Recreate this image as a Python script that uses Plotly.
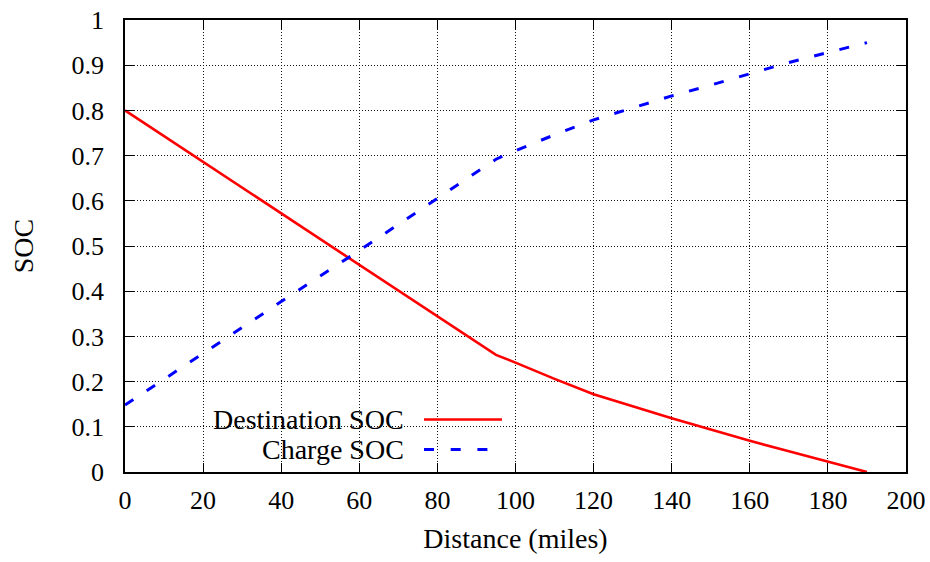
import plotly.graph_objects as go

# Data
dest_distance = [0, 95, 100, 110, 120, 130, 140, 150, 160, 170, 180, 190]
dest_soc = [0.80, 0.259, 0.242, 0.206, 0.172, 0.145, 0.119, 0.094, 0.069, 0.046, 0.023, 0.0]

charge_distance = [0, 20, 40, 60, 80, 95, 100, 110, 120, 130, 140, 150, 160, 170, 180, 190]
charge_soc = [0.148, 0.263, 0.377, 0.490, 0.606, 0.692, 0.711, 0.746, 0.779, 0.806, 0.832, 0.856, 0.881, 0.906, 0.928, 0.950]

x_ticks = [0, 20, 40, 60, 80, 100, 120, 140, 160, 180, 200]
y_ticks = [0, 0.1, 0.2, 0.3, 0.4, 0.5, 0.6, 0.7, 0.8, 0.9, 1]
legend_labels = ["Destination SOC", "Charge SOC"]

FONT = "Liberation Serif"
W, H = 930, 562
PL, PR, PT, PB = 125, 906, 19.5, 472          # plot area in page pixels
L, R, T, B = PL, W - PR, PT, H - PB


def px(xp):
    return (xp - PL) / (PR - PL)


def py(yp):
    return (PB - yp) / (PB - PT)


fig = go.Figure()
fig.add_trace(go.Scatter(x=dest_distance, y=dest_soc, mode="lines", name=legend_labels[0],
                         line=dict(color="#ff0000", width=2.6), showlegend=False))
fig.add_trace(go.Scatter(x=charge_distance, y=charge_soc, mode="lines", name=legend_labels[1],
                         line=dict(color="#0000ff", width=3, dash="10px,16px"), showlegend=False))

axis_common = dict(
    showline=True, linecolor="black", linewidth=1.5, mirror="ticks",
    ticks="inside", ticklen=9, tickwidth=1.2, tickcolor="black",
    showgrid=True, gridcolor="#111111", gridwidth=1, griddash="1px,2px",
    zeroline=False, automargin=False, ticklabeloverflow="allow",
    tickfont=dict(family=FONT, size=26, color="black"),
)

fig.update_xaxes(range=[0, 200], tickvals=x_ticks, ticktext=[str(v) for v in x_ticks],
                 ticklabelstandoff=4,
                 title=dict(text="Distance (miles)", font=dict(family=FONT, size=28, color="black"), standoff=14),
                 **axis_common)
fig.update_yaxes(range=[0, 1], tickvals=y_ticks, ticktext=[f"{v:g}" for v in y_ticks],
                 ticklabelstandoff=14,
                 title=dict(text="SOC", font=dict(family=FONT, size=28, color="black"), standoff=30),
                 **axis_common)

# Opaque key box (covers grid, below data)
fig.add_shape(type="rect", xref="paper", yref="paper", x0=px(143), x1=px(518), y0=0, y1=py(403.5),
              fillcolor="white", line=dict(width=0), layer="between")

# Legend samples (gnuplot style: text right-aligned, sample to the right)
fig.add_shape(type="line", xref="paper", yref="paper", x0=px(424), x1=px(502), y0=py(419.5), y1=py(419.5),
              line=dict(color="#ff0000", width=2.6))
fig.add_shape(type="line", xref="paper", yref="paper", x0=px(424), x1=px(502), y0=py(449.5), y1=py(449.5),
              line=dict(color="#0000ff", width=3, dash="10px,16.7px"))
fig.add_annotation(xref="paper", yref="paper", x=px(406), y=py(419), text=legend_labels[0],
                   showarrow=False, xanchor="right", yanchor="middle",
                   font=dict(family=FONT, size=28, color="black"))
fig.add_annotation(xref="paper", yref="paper", x=px(406), y=py(449), text=legend_labels[1],
                   showarrow=False, xanchor="right", yanchor="middle",
                   font=dict(family=FONT, size=28, color="black"))

fig.update_layout(
    width=W, height=H,
    margin=dict(l=L, r=R, t=T, b=B, autoexpand=False),
    paper_bgcolor="white", plot_bgcolor="white",
    font=dict(family=FONT, color="black"),
    showlegend=False,
)

# remove the default 8px body margin so the 930x562 figure fills the window exactly
fig.write_html("out.html", config={"displayModeBar": False},
               post_script="document.body.style.margin='0';document.body.style.overflow='hidden';")
